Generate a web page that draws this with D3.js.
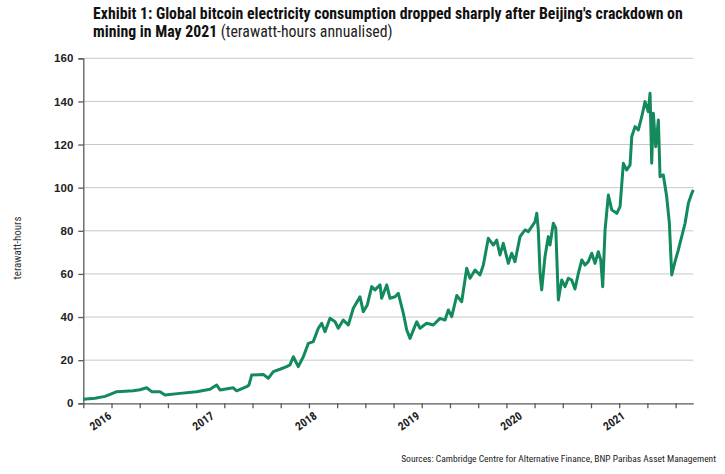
<!DOCTYPE html>
<html><head><meta charset="utf-8">
<script src="https://cdn.jsdelivr.net/npm/d3@7"></script>
<style>
body{margin:0;background:#fff}
text{font-family:"Liberation Sans Narrow","Arial Narrow","Roboto Condensed",sans-serif}
</style>
</head><body>
<svg id="chart" width="725" height="474"></svg>
<script>
// decimal years
const years = [2015.750,2015.864,2015.961,2016.029,2016.075,2016.156,2016.237,2016.302,2016.367,2016.416,2016.497,2016.545,2016.691,2016.854,2016.983,2017.049,2017.081,2017.210,2017.243,2017.341,2017.363,2017.389,2017.502,2017.551,2017.600,2017.665,2017.730,2017.762,2017.795,2017.843,2017.892,2017.941,2017.989,2018.038,2018.071,2018.103,2018.152,2018.201,2018.233,2018.281,2018.330,2018.379,2018.444,2018.476,2018.515,2018.558,2018.590,2018.639,2018.655,2018.704,2018.736,2018.785,2018.817,2018.866,2018.899,2018.931,2018.996,2019.028,2019.093,2019.158,2019.223,2019.272,2019.304,2019.337,2019.386,2019.434,2019.483,2019.515,2019.564,2019.612,2019.645,2019.693,2019.742,2019.775,2019.807,2019.839,2019.888,2019.921,2019.953,2020.002,2020.051,2020.083,2020.116,2020.148,2020.165,2020.180,2020.197,2020.213,2020.245,2020.277,2020.294,2020.326,2020.350,2020.375,2020.408,2020.440,2020.472,2020.505,2020.537,2020.570,2020.603,2020.635,2020.667,2020.700,2020.732,2020.764,2020.788,2020.807,2020.830,2020.862,2020.895,2020.944,2020.976,2021.008,2021.041,2021.073,2021.090,2021.122,2021.154,2021.187,2021.219,2021.251,2021.268,2021.284,2021.300,2021.323,2021.349,2021.365,2021.397,2021.430,2021.456,2021.479,2021.511,2021.543,2021.576,2021.609,2021.641,2021.674,2021.689];
// terawatt-hours annualised
const twh = [1.9,2.3,3.2,4.5,5.4,5.6,5.8,6.3,7.2,5.4,5.4,3.9,4.6,5.4,6.5,8.5,6.2,7.2,5.8,7.7,8.5,13.1,13.4,11.6,14.7,15.8,17,17.8,21.6,17,21.6,27.8,28.6,34.8,37.1,33.2,39.4,37.8,34.8,38.6,36.3,44.1,49.4,42.5,45.6,54.1,52.6,54.9,48.7,54.9,48.7,49.4,51,41.7,34,30.1,37.8,34.8,37.1,36.3,39.4,38.6,43.3,40.2,50,47.1,62.6,58,61.8,59.5,64.1,76.5,73.4,75.7,68.8,74.2,64.9,69.6,65.7,77.3,80.4,79.6,81.9,84.2,88.1,80.4,60.3,52.6,68,77.3,73.4,83.5,81.2,47.9,57.2,54.1,58,57.2,53,60.3,66.5,64.1,65.7,69.6,64.9,70.3,66.5,54.1,80.4,96.6,89.7,88.1,91.2,111.3,108.2,110.5,123.7,128.3,126.8,132.9,139.9,135.2,143.8,111.3,134.5,119,131.4,105.1,105.9,95.8,83.5,59.5,65.7,71.1,77.3,83.5,92.8,97.4,99];
const yTicks = [0,20,40,60,80,100,120,140,160];
const yearLabels = [2016,2017,2018,2019,2020,2021];
const xDomain = [2015.75, 2021.689];
const xTickStep = 0.2746;
const titleLine1 = "Exhibit 1: Global bitcoin electricity consumption dropped sharply after Beijing's crackdown on";
const titleLine2Bold = "mining in May 2021";
const titleLine2Rest = " (terawatt-hours annualised)";
const yTitle = "terawatt-hours";
const source = "Sources: Cambridge Centre for Alternative Finance, BNP Paribas Asset Management";

const svg = d3.select("#chart");
const L = 83.3, R = 693.3, T = 58.3, B = 403.3;
const x = d3.scaleLinear().domain(xDomain).range([L, R]);
const y = d3.scaleLinear().domain([0, 160]).range([B, T]);
const axisCol = "#5a5a5a";

// title
svg.append("text").attr("x", 93).attr("y", 18.5)
  .attr("font-size", 15.8).attr("font-weight", "bold").attr("fill", "#111").text(titleLine1);
const t2 = svg.append("text").attr("x", 93).attr("y", 36.5).attr("font-size", 15.8).attr("fill", "#111");
t2.append("tspan").attr("font-weight", "bold").text(titleLine2Bold);
t2.append("tspan").attr("font-weight", "normal").attr("fill", "#222").text(titleLine2Rest);

// gridlines
svg.append("g").selectAll("line").data(yTicks.filter(d => d > 0)).join("line")
  .attr("x1", L).attr("x2", R).attr("y1", d => y(d)).attr("y2", d => y(d))
  .attr("stroke", "#c8c8c8").attr("stroke-width", 1);

// y axis
const ya = svg.append("g").attr("transform", `translate(${L},0)`)
  .call(d3.axisLeft(y).tickValues(yTicks).tickSize(5).tickPadding(5));
ya.select(".domain").attr("stroke", axisCol).attr("stroke-width", 1.3);
ya.selectAll(".tick line").attr("stroke", axisCol).attr("stroke-width", 1.3);
ya.selectAll(".tick text").attr("font-size", 11.5).attr("font-weight", "bold").attr("fill", "#222")
  .style("font-family", '"Liberation Sans Narrow","Arial Narrow",sans-serif');

// x axis
const xTicks = d3.range(0, 22).map(i => xDomain[0] + i * xTickStep);
const xa = svg.append("g").attr("transform", `translate(0,${B})`)
  .call(d3.axisBottom(x).tickValues(xTicks).tickSize(5).tickFormat("").tickSizeOuter(0));
xa.select(".domain").attr("stroke", axisCol).attr("stroke-width", 1.3);
xa.selectAll(".tick line").attr("stroke", axisCol).attr("stroke-width", 1.3);

svg.append("g").selectAll("text").data(yearLabels).join("text")
  .attr("transform", d => `translate(${x(d) + 1},${B + 11}) rotate(-35)`)
  .attr("text-anchor", "end").attr("dy", "0.35em")
  .attr("font-size", 11.5).attr("font-weight", "bold").attr("fill", "#222").text(d => d);

// y title
svg.append("text").attr("transform", `translate(21,248) rotate(-90)`)
  .attr("text-anchor", "middle").attr("font-size", 11).attr("fill", "#333").text(yTitle);

// line
const data = years.map((yr, i) => ({yr, v: twh[i]}));
svg.append("path").datum(data)
  .attr("fill", "none").attr("stroke", "#138a5c").attr("stroke-width", 3)
  .attr("stroke-linejoin", "round")
  .attr("d", d3.line().x(d => x(d.yr)).y(d => y(d.v)));

// source
svg.append("text").attr("x", 716).attr("y", 462).attr("text-anchor", "end")
  .attr("font-size", 9.5).attr("fill", "#222").text(source);
</script>
</body></html>
